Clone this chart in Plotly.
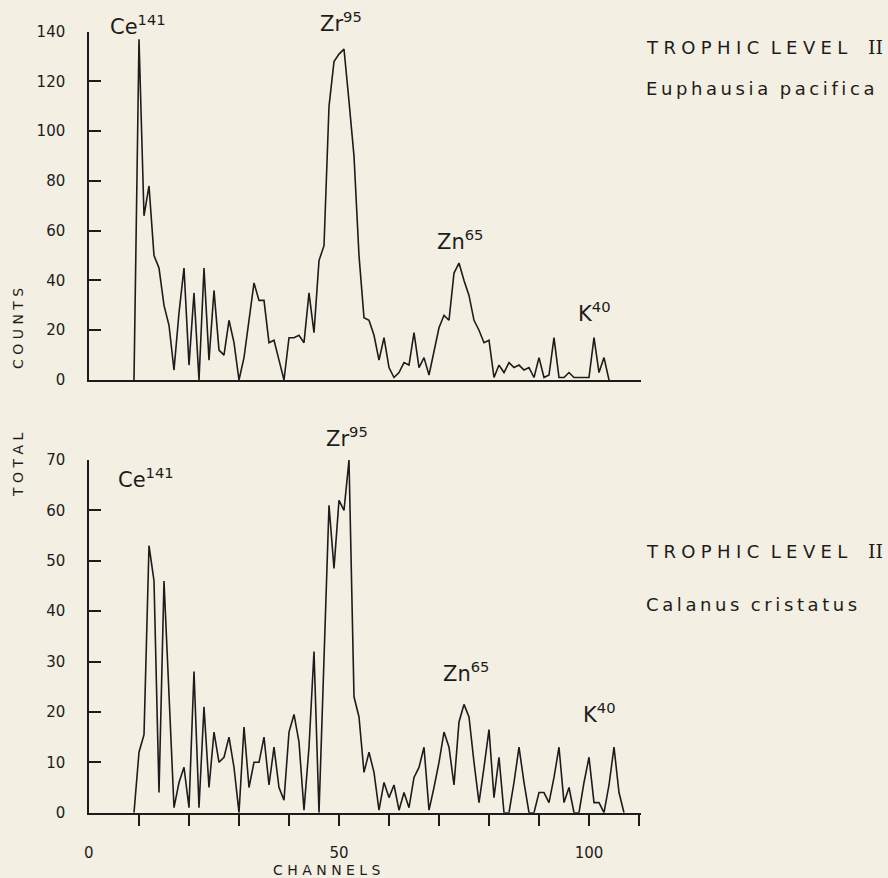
import plotly.graph_objects as go

# ---------------- data ----------------
top_channels = list(range(9, 105))
top_counts = [0, 137, 66, 78, 50, 45, 30, 22, 4, 27,
              45, 6, 35, 0, 45, 8, 36, 12, 10, 24,
              15, 0, 9, 24, 39, 32, 32, 15, 16, 8,
              0, 17, 17, 18, 15, 35, 19, 48, 54, 110,
              128, 131, 133, 112, 90, 50, 25, 24, 18, 8,
              17, 5, 1, 3, 7, 6, 19, 5, 9, 2,
              11, 21, 26, 24, 43, 47, 40, 34, 24, 20,
              15, 16, 1, 6, 3, 7, 5, 6, 4, 5,
              1, 9, 1, 2, 17, 1, 1, 3, 1, 1,
              1, 1, 17, 3, 9, 0]

bottom_channels = list(range(9, 108))
bottom_counts = [0, 12, 15.5, 53, 46, 4, 46, 24, 1, 6,
                 9, 1, 28, 1, 21, 5, 16, 10, 11, 15,
                 9, 0, 17, 5, 10, 10, 15, 5.5, 13, 5,
                 2.5, 16, 19.5, 14, 0.5, 13, 32, 0, 30, 61,
                 48.5, 62, 60, 70, 23, 19, 8, 12, 8, 0.5,
                 6, 3, 5.5, 0.5, 4, 1, 7, 9, 13, 0.5,
                 5, 10, 16, 13, 5.5, 18, 21.5, 19, 10, 2,
                 9, 16.5, 3, 11, 0, 0, 6, 13, 6, 0,
                 0, 4, 4, 2, 7, 13, 2, 5, 0, 0,
                 6, 11, 2, 2, 0, 5.5, 13, 4, 0]

x_ticks = [10, 20, 30, 40, 50, 60, 70, 80, 90, 100, 110]
x_tick_text = ["", "", "", "", "50", "", "", "", "", "100", ""]
top_y_ticks = [0, 20, 40, 60, 80, 100, 120, 140]
bottom_y_ticks = [0, 10, 20, 30, 40, 50, 60, 70]

peak_names = ["Ce<sup>141</sup>", "Zr<sup>95</sup>", "Zn<sup>65</sup>", "K<sup>40</sup>"]

# ---------------- figure ----------------
W, H = 888, 878
BG = "#f3efe2"
INK = "#1c1c1c"
FONT = "DejaVu Sans"
TS = "\u2009"  # thin space used for letter spacing
CAP_GAP = "\u2009\u200a"


def fx(px):
    return px / W


def fy(py):
    return (H - py) / H


def spaced(s, gap=TS):
    return gap.join(s).replace(gap + " " + gap, "  ")


fig = go.Figure()
fig.add_trace(go.Scatter(x=top_channels, y=top_counts, mode="lines",
                         line=dict(color=INK, width=1.6), xaxis="x", yaxis="y",
                         showlegend=False, hoverinfo="skip"))
fig.add_trace(go.Scatter(x=bottom_channels, y=bottom_counts, mode="lines",
                         line=dict(color=INK, width=1.6), xaxis="x2", yaxis="y2",
                         showlegend=False, hoverinfo="skip"))

xdom = [fx(89), fx(641)]
xr = [0, 110.4]

common_y = dict(showgrid=False, zeroline=False, showline=True, linecolor=INK,
                linewidth=1.5, ticks="inside", ticklen=12, tickwidth=1.5,
                tickcolor=INK, tickfont=dict(family=FONT, size=15, color=INK),
                ticklabelstandoff=19, automargin=False)

fig.update_layout(
    width=W, height=H, autosize=False,
    margin=dict(l=0, r=0, t=0, b=0, pad=0),
    paper_bgcolor=BG, plot_bgcolor=BG,
    font=dict(family=FONT, color=INK),
    xaxis=dict(domain=xdom, range=xr, anchor="y", showgrid=False, zeroline=False,
               showline=True, linecolor=INK, linewidth=1.5, ticks="",
               showticklabels=False, automargin=False),
    yaxis=dict(domain=[fy(380), fy(31.7)], range=[0, 140], anchor="x",
               tickvals=top_y_ticks, **common_y),
    xaxis2=dict(domain=xdom, range=xr, anchor="y2", showgrid=False, zeroline=False,
                showline=True, linecolor=INK, linewidth=1.5, ticks="outside",
                ticklen=12, tickwidth=1.5, tickcolor=INK,
                tickvals=x_ticks, ticktext=x_tick_text,
                tickfont=dict(family=FONT, size=15, color=INK),
                ticklabelstandoff=14, automargin=False),
    yaxis2=dict(domain=[fy(812.7), fy(460)], range=[0, 70], anchor="x2",
                tickvals=bottom_y_ticks, **common_y),
)

ann = []


def add_text(txt, px, py, size, xanchor="center", angle=0, xref="paper", x=None,
             family=FONT):
    ann.append(dict(text=txt, x=fx(px) if x is None else x, y=fy(py),
                    xref=xref, yref="paper", xanchor=xanchor, yanchor="middle",
                    textangle=angle, showarrow=False,
                    font=dict(family=family, size=size, color=INK)))


top_pos = [(138, 25), (341, 22), (460, 240), (594, 312)]
bot_pos = [(146, 478), (347, 437), (466, 672), (599, 713)]
for txt, (px, py) in zip(peak_names, top_pos):
    add_text(txt, px, py, 21)
for txt, (px, py) in zip(peak_names, bot_pos):
    add_text(txt, px, py, 21)

# x-axis "0" label and title
add_text("0", 0, 853, 15, xref="x2", x=0)
add_text("C H A N N E L S", 327, 870, 14)
# y titles
add_text("C O U N T S", 18, 329, 14, angle=-90)
add_text("T O T A L", 18, 465, 14, angle=-90)
# side captions
captions = [(spaced("TROPHIC LEVEL", CAP_GAP), 47),
            (spaced("Euphausia pacifica"), 88),
            (spaced("TROPHIC LEVEL", CAP_GAP), 551),
            (spaced("Calanus cristatus"), 604)]
for txt, py in captions:
    add_text(txt, 644, py, 18, xanchor="left")
# Roman numeral II with serifs
for py in (47, 551):
    add_text("II", 875, py, 19, family="DejaVu Serif")

fig.update_layout(annotations=ann)
fig.write_html("out.html", config={"displayModeBar": False},
               post_script="document.body.style.margin='0';")
